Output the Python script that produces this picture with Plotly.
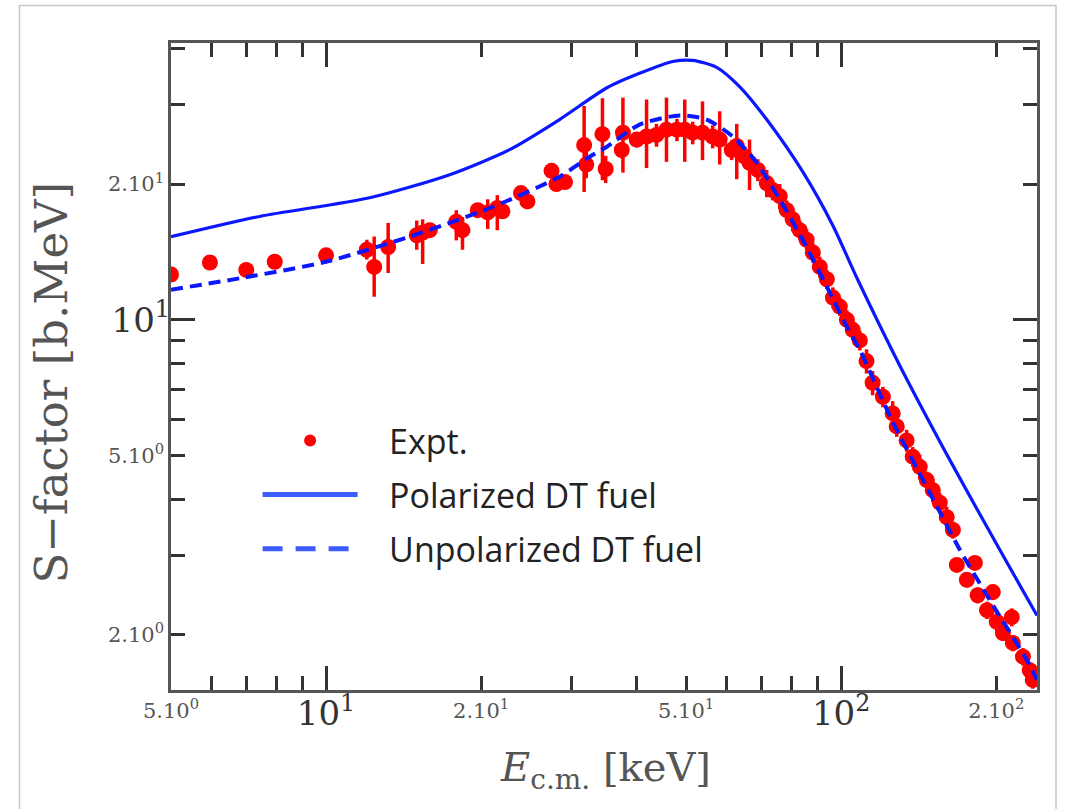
import math
import plotly.graph_objects as go

# ---------------- data ----------------
exp_x = [5.0, 5.95, 7.0, 7.95, 10.0, 12.0, 12.4, 13.2, 15.0, 15.4, 15.9, 17.9, 18.4, 19.7,
         20.6, 21.5, 22.0, 23.9, 24.6, 27.4, 28.0, 29.1, 31.7, 32.0, 34.4, 34.9, 37.5, 37.7,
         40.1, 41.9, 43.8, 45.8, 48.0, 49.7, 51.5, 53.8, 56.3, 58.1, 61.3, 62.7, 65.0, 66.4,
         68.9, 71.7, 73.6, 76.0, 78.4, 80.5, 83.1, 85.7, 88.1, 90.9, 93.8, 96.4, 99.4, 102.6,
         105.3, 108.7, 112.0, 115.1, 120.5, 125.9, 128.2, 134.0, 137.7, 142.1, 146.6, 150.6,
         155.4, 160.3, 164.8, 167.7, 181.8, 175.4, 184.1, 197.0, 191.9, 200.5, 214.4, 206.1,
         215.4, 225.4, 232.3, 235.5]
exp_y = [12.6, 13.4, 12.9, 13.45, 13.9, 14.3, 13.1, 14.5, 15.4, 15.6, 15.8, 16.5, 15.8, 17.5,
         17.3, 17.7, 17.4, 19.1, 18.3, 21.4, 20.0, 20.2, 24.4, 22.1, 25.8, 21.6, 23.8, 26.0,
         25.1, 25.5, 25.7, 26.4, 26.4, 26.4, 26.0, 26.0, 25.5, 25.1, 23.8, 24.3, 23.0, 22.3,
         21.5, 20.1, 19.4, 18.8, 17.5, 16.7, 15.8, 15.05, 14.1, 13.1, 12.3, 11.2, 10.7, 10.0,
         9.5, 9.0, 8.1, 7.25, 6.75, 6.2, 5.8, 5.4, 4.97, 4.72, 4.41, 4.19, 3.93, 3.65, 3.42,
         2.86, 2.89, 2.65, 2.45, 2.49, 2.27, 2.14, 2.19, 2.02, 1.92, 1.79, 1.67, 1.59]
err_up = [0, 0, 0, 0, 0, 0.75, 2.2, 1.9, 1.2, 1.1, 0.6, 1.0, 1.1, 0.5,
          1.2, 1.2, 0.5, 0.6, 0.6, 0.7, 0.7, 0.7, 5.4, 1.5, 5.2, 1.5, 1.0, 5.1,
          1.0, 5.3, 1.5, 4.7, 1.5, 4.4, 1.5, 4.5, 1.5, 3.9, 1.2, 2.9, 1.2, 2.8,
          1.2, 1.4, 1.0, 1.2, 0.9, 1.0, 0.8, 0.8, 0.7, 0.7, 0.6, 0.6, 0.5, 0.5,
          0.5, 0.45, 0.5, 0.45, 0.35, 0.4, 0.3, 0.3, 0.25, 0.3, 0.2, 0.25, 0.2, 0.2, 0.15,
          0.1, 0.1, 0.1, 0.1, 0.1, 0.1, 0.1, 0.1, 0.08, 0.08, 0.08, 0.07, 0.07]
err_down = [0, 0, 0, 0, 0, 0.7, 1.85, 1.8, 1.1, 2.3, 0.6, 1.5, 1.5, 0.5,
            1.4, 1.9, 0.5, 0.6, 0.6, 0.7, 0.7, 0.7, 5.2, 1.5, 5.4, 1.5, 1.0, 4.8,
            1.0, 3.8, 1.5, 4.0, 1.5, 4.0, 1.5, 3.4, 1.5, 3.0, 1.2, 3.8, 1.2, 2.9,
            1.2, 1.4, 1.0, 1.2, 0.9, 1.0, 0.8, 0.8, 0.7, 0.7, 0.6, 0.6, 0.5, 0.5,
            0.5, 0.45, 0.5, 0.45, 0.35, 0.4, 0.3, 0.3, 0.25, 0.3, 0.2, 0.25, 0.2, 0.2, 0.15,
            0.1, 0.1, 0.1, 0.1, 0.1, 0.1, 0.1, 0.1, 0.08, 0.08, 0.08, 0.07, 0.07]

pol_x = [5.0, 7.43, 12.15, 17.38, 22.72, 28.4, 35.1, 40.6, 47.1, 51.5, 57.3, 63.5, 71.7,
         84.2, 96.4, 107.7, 130.0, 162.5, 203.2, 240.0]
pol_y = [15.28, 16.95, 18.65, 20.98, 23.84, 27.8, 32.7, 35.2, 37.4, 37.6, 36.3, 32.9, 27.8,
         21.3, 16.17, 12.27, 7.91, 4.89, 3.09, 2.21]

unpol_x = [5.0, 6.88, 10.0, 14.5, 21.1, 28.4, 32.5, 35.1, 40.6, 48.6, 54.8, 61.6, 68.6,
           76.0, 84.2, 93.8, 102.6, 108.7, 125.9, 146.6, 170.0, 197.0, 229.4, 240.0]
unpol_y = [11.66, 12.39, 13.45, 15.28, 17.81, 20.77, 23.0, 24.2, 27.1, 28.4, 27.8, 25.5,
           22.3, 18.5, 15.05, 11.84, 9.65, 8.58, 5.94, 4.26, 3.09, 2.33, 1.76, 1.59]

x_range_vals = [5.0, 240.0]
y_range_vals = [1.51, 41.1]

x_small_vals = [5, 20, 50, 200]
x_small_text = ['5.10<sup>0</sup>', '2.10<sup>1</sup>', '5.10<sup>1</sup>', '2.10<sup>2</sup>']
x_big_vals = [10, 100]
x_big_text = ['10<sup>1</sup>', '10<sup>2</sup>']
x_minor = [6, 7, 8, 9, 30, 40, 60, 70, 80, 90]

y_small_vals = [2, 5, 20]
y_small_text = ['2.10<sup>0</sup>', '5.10<sup>0</sup>', '2.10<sup>1</sup>']
y_big_vals = [10]
y_big_text = ['10<sup>1</sup>']
y_minor = [3, 4, 6, 7, 8, 9, 30, 40]

legend_names = ['\u00a0\u00a0\u00a0Expt.', '\u00a0\u00a0\u00a0Polarized DT fuel',
                '\u00a0\u00a0\u00a0Unpolarized DT fuel']

RED = '#ff0000'
BLUE = '#0b17ff'
LBLUE = '#3d5cff'

xr = [math.log10(v) for v in x_range_vals]
yr = [math.log10(v) for v in y_range_vals]

fig = go.Figure()
fig.add_trace(go.Scatter(
    x=exp_x, y=exp_y, mode='markers',
    marker=dict(color=RED, size=16, line=dict(width=0)),
    error_y=dict(type='data', symmetric=False, array=err_up, arrayminus=err_down,
                 color=RED, thickness=3.5, width=0),
    showlegend=False, hoverinfo='x+y'))
fig.add_trace(go.Scatter(
    x=pol_x, y=pol_y, mode='lines',
    line=dict(color=BLUE, width=3.2, shape='spline', smoothing=0.7),
    showlegend=False))
fig.add_trace(go.Scatter(
    x=unpol_x, y=unpol_y, mode='lines',
    line=dict(color=BLUE, width=4, dash='12px,7px', shape='spline', smoothing=0.7),
    showlegend=False))

# legend entries
fig.add_trace(go.Scatter(x=[None], y=[None], mode='markers', name=legend_names[0],
                         legendgroup='a', marker=dict(color=RED, size=13)))
fig.add_trace(go.Scatter(x=[None], y=[None], mode='lines', name=legend_names[1],
                         legendgroup='b', line=dict(color=LBLUE, width=5)))
fig.add_trace(go.Scatter(x=[None], y=[None], mode='lines', name=legend_names[2],
                         legendgroup='c', line=dict(color=LBLUE, width=5, dash='20px,13px')))
# carrier for the overlay tick axes
fig.add_trace(go.Scatter(x=[None], y=[None], xaxis='x2', yaxis='y2', showlegend=False,
                         hoverinfo='skip'))

common = dict(type='log', showgrid=False, zeroline=False, ticks='inside',
              tickcolor='#333', tickwidth=2.5)

fig.update_layout(
    width=1066, height=809,
    margin=dict(l=171, r=29, t=43, b=119),
    paper_bgcolor='white', plot_bgcolor='white',
    showlegend=True,
    legend=dict(x=0.1, y=0.43, xanchor='left', yanchor='top',
                bgcolor='rgba(0,0,0,0)', itemwidth=95, tracegroupgap=7,
                font=dict(family='Open Sans', size=34, color='#222'),
                itemsizing='constant'),
    xaxis=dict(**common, range=xr, tickmode='array', tickvals=x_small_vals,
               ticktext=x_small_text, ticklen=14, showline=True, linecolor='#555',
               linewidth=2.5, mirror='allticks',
               tickfont=dict(family='DejaVu Serif', size=21, color='#555'),
               minor=dict(tickmode='array', tickvals=x_minor, ticks='inside', ticklen=14,
                          tickwidth=2.5, tickcolor='#333', showgrid=False)),
    yaxis=dict(**common, range=yr, tickmode='array', tickvals=y_small_vals,
               ticktext=y_small_text, ticklen=14, showline=True, linecolor='#555',
               linewidth=2.5, mirror='allticks',
               tickfont=dict(family='DejaVu Serif', size=21, color='#555'),
               minor=dict(tickmode='array', tickvals=y_minor, ticks='inside', ticklen=14,
                          tickwidth=2.5, tickcolor='#333', showgrid=False)),
    xaxis2=dict(**common, range=xr, overlaying='x', anchor='y', side='bottom',
                tickmode='array', tickvals=x_big_vals, ticktext=x_big_text, ticklen=24,
                showticklabels=True, showline=False, mirror='allticks',
                tickfont=dict(family='DejaVu Serif', size=34, color='#333')),
    yaxis2=dict(**common, range=yr, overlaying='y', anchor='x', side='left',
                tickmode='array', tickvals=y_big_vals, ticktext=y_big_text, ticklen=24,
                showticklabels=True, showline=False, mirror='allticks',
                tickfont=dict(family='DejaVu Serif', size=34, color='#333')),
    annotations=[
        dict(text='S\u2212factor [b.MeV]', xref='paper', yref='paper', x=-0.138, y=0.476,
             xanchor='center', yanchor='middle', textangle=-90, showarrow=False,
             font=dict(family='DejaVu Serif', size=45, color='#555')),
        dict(text='<i>E</i><sub>c.m.</sub> [keV]', xref='paper', yref='paper', x=0.502,
             y=-0.124, xanchor='center', yanchor='middle', showarrow=False,
             font=dict(family='DejaVu Serif', size=40, color='#555')),
    ],
    shapes=[dict(type='rect', xref='paper', yref='paper', x0=-0.175, x1=1.022,
                 y0=-0.25, y1=1.058, line=dict(color='#c8c8c8', width=1.5),
                 fillcolor='rgba(0,0,0,0)', layer='below')],
)

fig.write_html('out.html')
